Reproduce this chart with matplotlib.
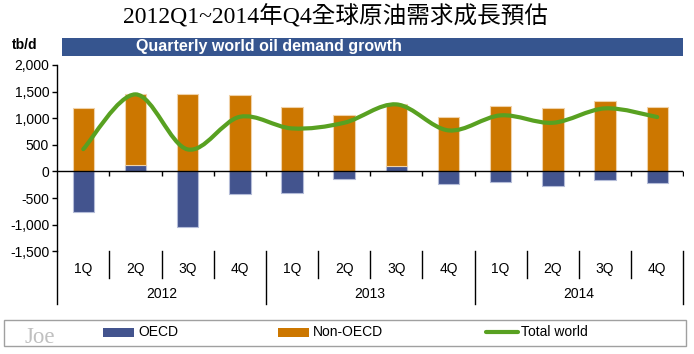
import matplotlib
matplotlib.use("Agg")
import matplotlib.pyplot as plt
from matplotlib.path import Path
from matplotlib.patches import PathPatch, Rectangle
from matplotlib.lines import Line2D
import numpy as np

quarters = ["1Q", "2Q", "3Q", "4Q"] * 3
years = ["2012", "2013", "2014"]
oecd = [-765, 120, -1041, -432, -395, -150, 110, -244, -195, -276, -158, -207]
non_oecd = [1184, 1327, 1459, 1434, 1203, 1053, 1155, 1015, 1227, 1184, 1321, 1209]
total_world = [419, 1447, 414, 1026, 808, 914, 1259, 771, 1053, 914, 1184, 1021]
yticks = [-1500, -1000, -500, 0, 500, 1000, 1500, 2000]

C_OECD = "#43548E"
C_NON = "#CC7700"
C_LINE = "#58A121"
C_BANNER = "#36558F"

W, H = 694, 354
fig = plt.figure(figsize=(W / 100, H / 100), dpi=100)
plt.rcParams['font.family'] = ['Liberation Sans', 'DejaVu Sans']

def fx(px):
    return px / W

def fy(py):
    return 1 - py / H

ax_l, ax_r, ax_t, ax_b = 57.2, 683.3, 64.9, 251.4
ax = fig.add_axes([fx(ax_l), fy(ax_b), fx(ax_r - ax_l), (ax_b - ax_t) / H])
ax.set_xlim(0, 12)
ax.set_ylim(-1500, 2000)

x = np.arange(12) + 0.5
bw = 0.41
oecd_a = np.array(oecd)
non_bottom = np.where(oecd_a > 0, oecd_a, 0)
ax.bar(x, oecd, width=bw, color=C_OECD, edgecolor="#B4BCD8", linewidth=0.8, zorder=2)
ax.bar(x, non_oecd, width=bw, bottom=non_bottom, color=C_NON, edgecolor="#F0D2A8",
       linewidth=0.8, zorder=2)

# smoothed line (Excel-style Bezier through the points)
pts = np.column_stack([x, total_world])
verts = [tuple(pts[0])]
codes = [Path.MOVETO]
n = len(pts)
for i in range(n - 1):
    p0 = pts[i - 1] if i > 0 else pts[i]
    p1 = pts[i]
    p2 = pts[i + 1]
    p3 = pts[i + 2] if i + 2 < n else pts[i + 1]
    c1 = p1 + (p2 - p0) / 6.0
    c2 = p2 - (p3 - p1) / 6.0
    verts += [tuple(c1), tuple(c2), tuple(p2)]
    codes += [Path.CURVE4] * 3
ax.add_patch(PathPatch(Path(verts, codes), facecolor="none", edgecolor=C_LINE,
                       linewidth=3.0, capstyle="round", joinstyle="round", zorder=4))

# zero line with category ticks
ax.axhline(0, color="black", linewidth=1.0, zorder=3)
ax.plot(np.arange(1, 13), [0] * 12, ls="none", marker=3, ms=3.8, mew=1.0,
        color="black", zorder=3)

for s in ["top", "right", "bottom"]:
    ax.spines[s].set_visible(False)
ax.spines["left"].set_color("black")
ax.spines["left"].set_linewidth(1.0)
ax.set_yticks(yticks)
ax.set_yticklabels([f"{v:,}" for v in yticks], fontsize=10)
ax.tick_params(axis="y", direction="out", length=3.8, width=1.0, pad=2)
ax.set_xticks([])

# category label separators
trans = ax.get_xaxis_transform()
h_ax = ax_b - ax_t
def ay(py):
    return (ax_b - py) / h_ax
for b in range(13):
    bottom = 304 if b % 4 == 0 else 278
    ax.add_line(Line2D([b, b], [0, ay(bottom)], transform=trans, color="black",
                       linewidth=1.0, clip_on=False))
for i, q in enumerate(quarters):
    ax.text(i + 0.5, ay(269), q, transform=trans, ha="center", va="center", fontsize=10)
for j, yr in enumerate(years):
    ax.text(j * 4 + 2, ay(294), yr, transform=trans, ha="center", va="center", fontsize=10)

# title
fig.text(fx(335), fy(17), "2012Q1~2014年Q4全球原油需求成長預估", ha="center", va="center",
         fontsize=17, family=["Liberation Serif", "Noto Sans CJK TC"])

# banner
fig.patches.append(Rectangle((fx(62), fy(55.5)), fx(683.3 - 62), (55.5 - 38) / H,
                             transform=fig.transFigure, facecolor=C_BANNER,
                             edgecolor="none"))
fig.text(fx(136), fy(46.5), "Quarterly world oil demand growth", color="white",
         fontweight="bold", fontsize=11.5, ha="left", va="center")
fig.text(fx(12), fy(45), "tb/d", fontweight="bold", fontsize=10, ha="left", va="center")

# legend
fig.patches.append(Rectangle((fx(3.5), fy(345.5)), fx(685.5 - 3.5), (345.5 - 319.5) / H,
                             transform=fig.transFigure, facecolor="white",
                             edgecolor="#A0A0A0", linewidth=1.0))
fig.text(fx(24), fy(343), "Joe", color="#C0C0C0", fontsize=16.5, ha="left", va="baseline",
         family=["Liberation Serif"])
fig.patches.append(Rectangle((fx(103.3), fy(336.7)), fx(31), 9 / H,
                             transform=fig.transFigure, facecolor=C_OECD, edgecolor="none"))
fig.text(fx(138), fy(332), "OECD", fontsize=10, ha="left", va="center")
fig.patches.append(Rectangle((fx(278.3), fy(336.7)), fx(31), 9 / H,
                             transform=fig.transFigure, facecolor=C_NON, edgecolor="none"))
fig.text(fx(313), fy(332), "Non-OECD", fontsize=10, ha="left", va="center")
fig.lines.append(Line2D([fx(486), fx(518)], [fy(332.3), fy(332.3)], transform=fig.transFigure,
                        color=C_LINE, linewidth=3.0, solid_capstyle="round"))
fig.text(fx(521), fy(332), "Total world", fontsize=10, ha="left", va="center")

fig.savefig("out.png", dpi=100)
